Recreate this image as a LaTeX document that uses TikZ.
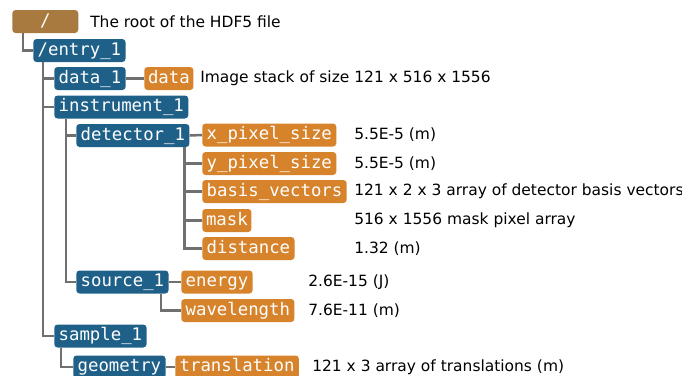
\documentclass[tikz,border=0pt]{standalone}
\usepackage{fontspec}
\setmainfont{DejaVu Sans}
\setmonofont{DejaVu Sans Mono}
\usepackage{xcolor}
\usetikzlibrary{positioning}

\definecolor{grpblue}{HTML}{1F6088}
\definecolor{dsetorange}{HTML}{D6832B}
\definecolor{rootbrown}{HTML}{A97A3F}
\definecolor{linkgray}{HTML}{707070}

\tikzset{
  box/.style={rounded corners=2.5pt, text=white, anchor=west,
    font=\ttfamily\fontsize{13}{15}\selectfont,
    minimum height=17.25pt, text height=9.6pt, text depth=2.8pt,
    inner xsep=3.3pt, inner ysep=0pt},
  grp/.style={box, fill=grpblue},
  dset/.style={box, fill=dsetorange},
  desc/.style={anchor=west, inner sep=0pt, font=\fontsize{11.6}{14}\selectfont},
  link/.style={draw=linkgray, line width=1.9pt},
}

\begin{document}
\begin{tikzpicture}[x=0.75pt, y=-0.75pt]
    \useasboundingbox (0,0) rectangle (682,375);

    % groups and datasets
    \node[box, fill=rootbrown, minimum width=49.5pt] (root) at (12,21.5) {/};
    \node[grp] (entry) at (33,50.5) {/entry\_1};
    \node[grp] (data1) at (54,78.5) {data\_1};
    \node[dset, inner xsep=2.8pt] (data) at (144,78.5) {data};
    \node[grp] (instr) at (54,107) {instrument\_1};
    \node[grp] (det) at (76,135.5) {detector\_1};
    \node[dset] (xpix) at (202,135) {x\_pixel\_size};
    \node[dset] (ypix) at (202,163.5) {y\_pixel\_size};
    \node[dset] (basis) at (202,191.5) {basis\_vectors};
    \node[dset, inner xsep=2.8pt] (mask) at (202,220.5) {mask};
    \node[dset] (dist) at (202,248.5) {distance};
    \node[grp] (src) at (76,282) {source\_1};
    \node[dset] (energy) at (181,282) {energy};
    \node[dset] (wave) at (181,310.5) {wavelength};
    \node[grp] (sample) at (54,336) {sample\_1};
    \node[grp] (geom) at (73,367) {geometry};
    \node[dset] (trans) at (175,367) {translation};

    % descriptions
    \node[desc] (d-root) at (90,21.5) {The root of the HDF5 file};
    \node[desc] (d-data) at (200,78.5) {Image stack of size 121 x 516 x 1556};
    \node[desc] (d-xpix) at (354,135) {5.5E-5 (m)};
    \node[desc] (d-ypix) at (354,163.5) {5.5E-5 (m)};
    \node[desc] (d-basis) at (354,191.5) {121 x 2 x 3 array of detector basis vectors};
    \node[desc] (d-mask) at (354,220.5) {516 x 1556 mask pixel array};
    \node[desc] (d-dist) at (354,248.5) {1.32 (m)};
    \node[desc] (d-energy) at (308,282) {2.6E-15 (J)};
    \node[desc] (d-wave) at (308,310.5) {7.6E-11 (m)};
    \node[desc] (d-trans) at (312,367) {121 x 3 array of translations (m)};

    % tree links
    \draw[link] ([xshift=8.25pt]root.south west) |- (entry.west);
    \foreach \child in {data1, instr, sample}
        \draw[link] ([xshift=7.5pt]entry.south west) |- (\child.west);
    \foreach \child in {det, src}
        \draw[link] ([xshift=9pt]instr.south west) |- (\child.west);
    \draw[link] (data1.east) -- (data.west);
    \draw[link] (det.east) -- (xpix.west);
    \foreach \child in {ypix, basis, mask, dist}
        \draw[link] ([xshift=-4pt]det.south east) |- (\child.west);
    \draw[link] (src.east) -- (energy.west);
    \draw[link] ([xshift=-6pt]src.south east) |- (wave.west);
    \draw[link] ([xshift=5.25pt]sample.south west) |- (geom.west);
    \draw[link] (geom.east) -- (trans.west);
\end{tikzpicture}
\end{document}
